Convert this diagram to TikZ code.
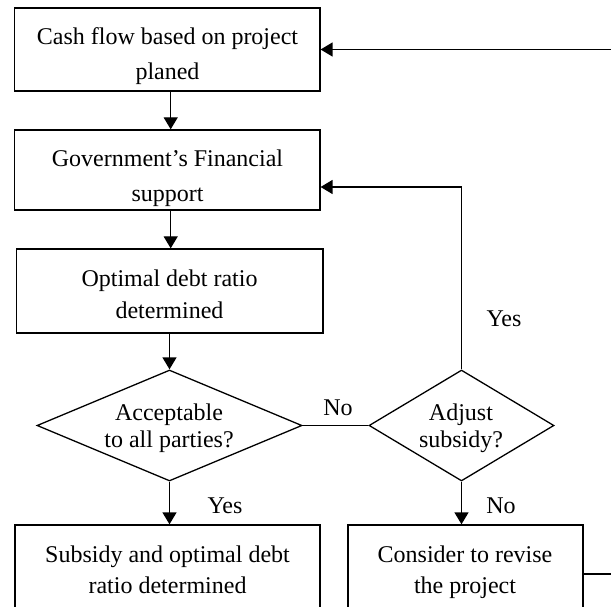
\documentclass[tikz,border=0pt]{standalone}
\usepackage{fontspec}
\setmainfont{Liberation Serif}
\usetikzlibrary{shapes.geometric,arrows.meta}
\begin{document}
\begin{tikzpicture}[x=1pt,y=-1pt,
  every node/.style={inner sep=0pt},
  box/.style={draw,line width=1.3pt,rectangle},
  dia/.style={draw,line width=1.3pt,diamond},
  txt/.style={font=\fontsize{24}{30}\selectfont,anchor=base},
  conn/.style={line width=1.3pt},
  arr/.style={line width=1.3pt,-{Triangle[length=12pt,width=14pt]}}]
\useasboundingbox (0,0) rectangle (611,607);
\clip (0,0) rectangle (611,607);
% boxes
\node[box,minimum width=305.3pt,minimum height=83pt] (b1) at (167.3,49.5) {};
\node[box,minimum width=305.3pt,minimum height=80pt] (b2) at (167.3,170) {};
\node[box,minimum width=306.7pt,minimum height=84pt] (b3) at (169.7,291) {};
\node[dia,minimum width=265pt,minimum height=111pt] (d1) at (169.5,425.5) {};
\node[dia,minimum width=185pt,minimum height=111pt] (d2) at (461.5,425.5) {};
\node[box,minimum width=305pt,minimum height=115pt] (b4) at (167.5,582.5) {};
\node[box,minimum width=235pt,minimum height=115pt] (b5) at (465.5,582.5) {};
% texts
\node[txt] (t1a) at (167.5,45) {Cash flow based on project};
\node[txt] (t1b) at (167.5,80) {planed};
\node[txt] (t2a) at (167.5,167) {Government’s Financial};
\node[txt] (t2b) at (167.5,202) {support};
\node[txt] (t3a) at (169.5,287) {Optimal debt ratio};
\node[txt] (t3b) at (169.5,318) {determined};
\node[txt] (t4a) at (169,420) {Acceptable};
\node[txt] (t4b) at (169,447) {to all parties?};
\node[txt] (t5a) at (461,420) {Adjust};
\node[txt] (t5b) at (461,447) {subsidy?};
\node[txt] (t6a) at (167.5,562) {Subsidy and optimal debt};
\node[txt] (t6b) at (167.5,593) {ratio determined};
\node[txt] (t7a) at (465,562) {Consider to revise};
\node[txt] (t7b) at (465,593) {the project};
\node[txt] (lno1) at (338,415) {No};
\node[txt] (lyes1) at (504,326) {Yes};
\node[txt] (lyes2) at (225,513) {Yes};
\node[txt] (lno2) at (501,513) {No};
% connectors
\draw[arr] ([xshift=3.4pt]b1.south) -- ([xshift=3.4pt]b2.north);
\draw[arr] ([xshift=3.4pt]b2.south) -- ([xshift=1pt]b3.north);
\draw[arr] (b3.south -| d1.north) -- (d1.north);
\draw[arr] (d1.south) -- (d1.south |- b4.north);
\draw[conn] (d1.east) -- (d2.west);
\draw[arr] (d2.north) |- ([yshift=-17pt]b2.east);
\draw[arr] (d2.south) -- (d2.south |- b5.north);
\draw[arr] ([yshift=8.5pt]b5.east) -- ++(40,0) |- (b1.east);
\end{tikzpicture}
\end{document}
